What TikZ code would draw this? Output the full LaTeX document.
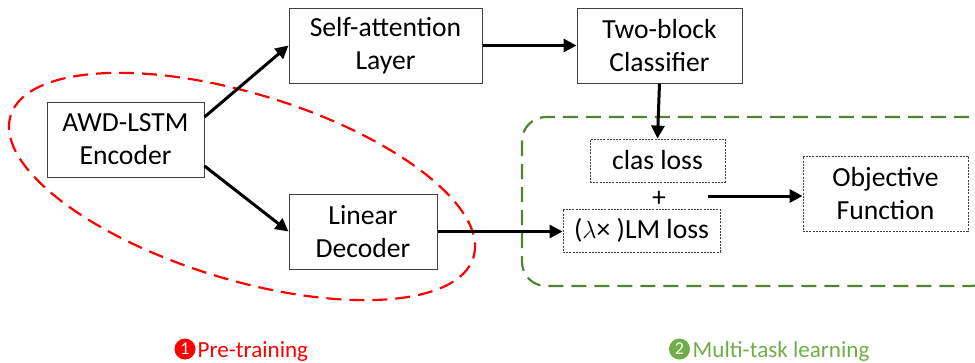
\documentclass[tikz,border=0pt]{standalone}
\usepackage{fontspec}
\setmainfont{Carlito}
\usetikzlibrary{arrows.meta}
\definecolor{boxgray}{HTML}{404040}
\definecolor{darkgreen}{HTML}{548235}
\definecolor{lightgreen}{HTML}{70AD47}
\definecolor{pred}{HTML}{FF0000}
\begin{document}
\begin{tikzpicture}[x=1pt,y=-1pt,
  box/.style={draw=boxgray, line width=1pt, rectangle, inner sep=0pt, align=center,
    font=\fontsize{27.6}{33}\selectfont},
  lossbox/.style={draw=black!75, line width=0.8pt, dash pattern=on 2pt off 1.2pt, rectangle,
    inner sep=0pt, align=center, font=\fontsize{27.6}{33}\selectfont},
  arr/.style={line width=3pt, -{Triangle[length=13pt,width=13pt]}},
  numcirc/.style={circle, inner sep=0pt, minimum size=21pt, text=white,
    font=\fontsize{18}{18}\selectfont},
  lab/.style={anchor=base west, inner sep=0pt, font=\fontsize{23.1}{26}\selectfont}
]
\useasboundingbox (0,0) rectangle (975,362);

% groups
\draw[pred, line width=2.2pt, dash pattern=on 15pt off 8pt, rotate around={-17:(242,186.5)}]
  (242,186.5) ellipse [x radius=242pt, y radius=93pt];
\draw[darkgreen, line width=2.2pt, dash pattern=on 15pt off 8pt, rounded corners=24pt]
  (522,117) rectangle (995,286);

% nodes
\node[box, minimum width=157pt, minimum height=75pt] (awd) at (125.5,139.5) {AWD-LSTM\\Encoder};
\node[box, minimum width=193pt, minimum height=75pt] (sa) at (385.5,45.5) {Self-attention\\Layer};
\node[box, minimum width=148pt, minimum height=75pt] (ld) at (363,231.5) {Linear\\Decoder};
\node[box, minimum width=165pt, minimum height=75pt] (tb) at (659.5,45.5) {Two-block\\Classifier};
\node[lossbox, minimum width=135pt, minimum height=43pt] (clas) at (657.5,160.5) {clas loss};
\node[inner sep=0pt, font=\fontsize{27.6}{33}\selectfont] (plus) at (659,199) {+};
\node[lossbox, minimum width=157pt, minimum height=43pt] (lm) at (641.5,230.5) {($\lambda$× )LM loss};
\node[lossbox, minimum width=165pt, minimum height=75pt] (obj) at (885.5,193.5) {Objective\\Function};

% connectors
\draw[arr] ([yshift=22.5pt]awd.east) -- (sa.west);
\draw[arr] ([yshift=-26.5pt]awd.east) -- (ld.west);
\draw[arr] (sa.east) -- (tb.west);
\draw[arr] (tb.south) -- (clas.north);
\draw[arr] (ld.east) -- (lm.west |- ld.east);
\coordinate (pstart) at (708,196);
\draw[arr] (pstart) -- (obj.west |- pstart);

% labels
\node[numcirc, fill=pred] (c1) at (185,349) {1};
\node[lab, text=pred] (pre) at (197.5,357) {Pre-training};
\node[numcirc, fill=lightgreen] (c2) at (679.5,349) {2};
\node[lab, text=lightgreen] (mtl) at (692.5,357) {Multi-task learning};
\end{tikzpicture}
\end{document}
